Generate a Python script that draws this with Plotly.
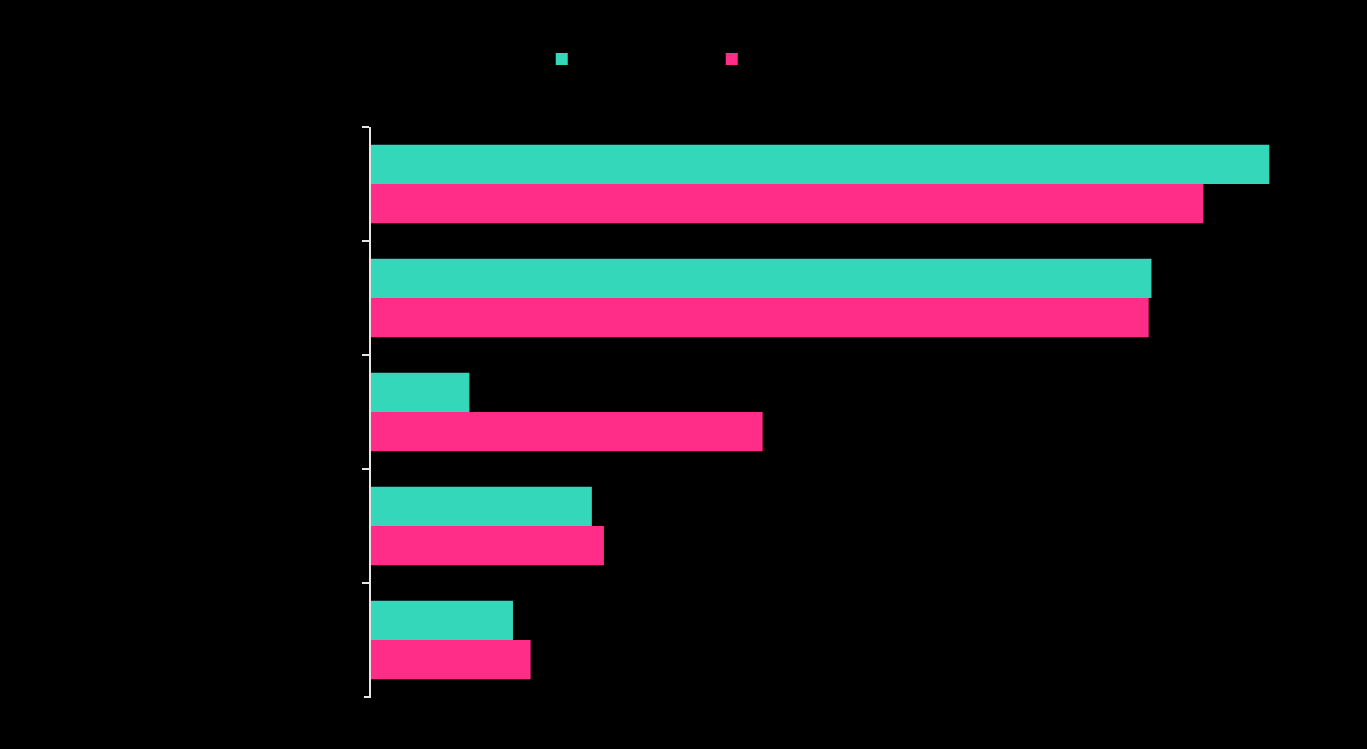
import plotly.graph_objects as go

categories = ["Category A", "Category B", "Category C", "Category D", "Category E"]
series_names = ["Series 1", "Series 2"]
teal_values = [96.8, 84.1, 10.6, 23.8, 15.3]
pink_values = [89.7, 83.8, 42.2, 25.1, 17.2]

TEAL = "#35d7bb"
PINK = "#ff2d87"
AXIS = "#e6e6e6"

fig = go.Figure()
fig.add_trace(go.Bar(y=categories, x=teal_values, orientation="h", name=series_names[0],
                     marker=dict(color=TEAL, line=dict(width=0))))
fig.add_trace(go.Bar(y=categories, x=pink_values, orientation="h", name=series_names[1],
                     marker=dict(color=PINK, line=dict(width=0))))

# closing tick at the bottom end of the category axis
fig.add_shape(type="line", xref="paper", yref="paper", x0=-7 / 928, x1=0, y0=0, y1=0,
              line=dict(color=AXIS, width=2))

fig.update_layout(
    width=1367, height=749,
    paper_bgcolor="black", plot_bgcolor="black",
    barmode="group", bargap=0.31, bargroupgap=0,
    margin=dict(l=371, r=68, t=127, b=52, autoexpand=False),
    font=dict(family="Open Sans", size=13, color="black"),
    showlegend=True,
    legend=dict(orientation="h", x=0.184, xanchor="left", y=1.119, yanchor="middle",
                entrywidth=125, entrywidthmode="pixels", bgcolor="rgba(0,0,0,0)",
                font=dict(color="black", size=13)),
    xaxis=dict(range=[0, 100], showgrid=False, zeroline=False, showline=False,
               showticklabels=False, ticks="", fixedrange=True),
    yaxis=dict(range=[4.5, -0.5], showgrid=False, zeroline=False, showline=True,
               linecolor=AXIS, linewidth=2, ticks="outside", tickson="boundaries",
               ticklen=7, tickwidth=2, tickcolor=AXIS,
               tickfont=dict(color="black", size=13), automargin=False),
)

fig.write_html("out.html", config={"displayModeBar": False},
               post_script="document.body.style.margin='0';document.body.style.background='black';")
